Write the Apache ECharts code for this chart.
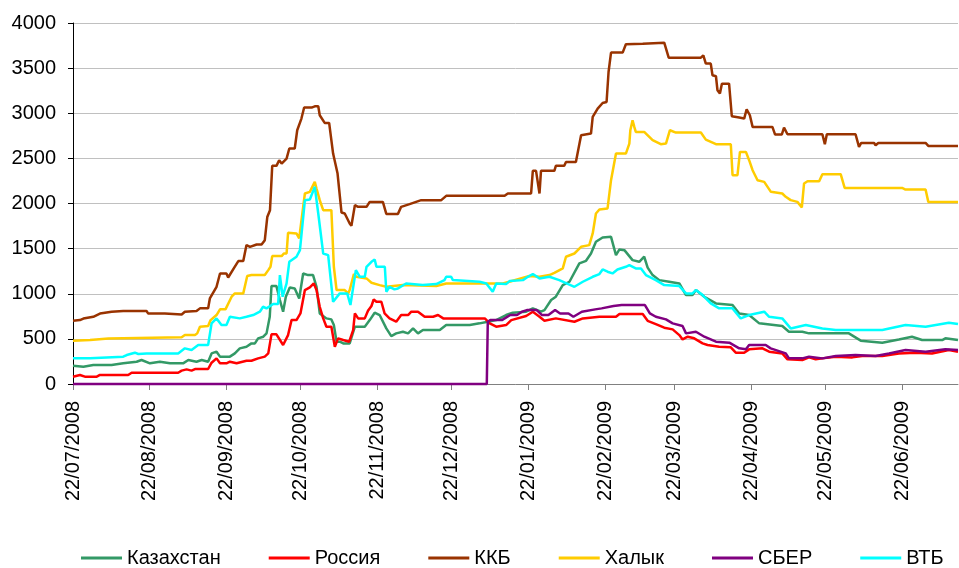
<!DOCTYPE html>
<html>
<head>
<meta charset="utf-8">
<title>CDS</title>
<script src="https://cdn.jsdelivr.net/npm/echarts@6/dist/echarts.min.js"></script>
<style>
    html, body { margin: 0; padding: 0; background: #fff; }
    #main { width: 959px; height: 568px; }
</style>
</head>
<body>
<div id="main"></div>
<script>
// x values are days since 22/07/2008
var startDate = Date.UTC(2008, 6, 22);
var tickDates = ['22/07/2008', '22/08/2008', '22/09/2008', '22/10/2008', '22/11/2008', '22/12/2008',
    '22/01/2009', '22/02/2009', '22/03/2009', '22/04/2009', '22/05/2009', '22/06/2009'];
var lastDay = 357.6;
var yTicks = [0, 500, 1000, 1500, 2000, 2500, 3000, 3500, 4000];

var names = ['Казахстан', 'Россия', 'ККБ', 'Халык', 'СБЕР', 'ВТБ'];
var colors = ['#339966', '#FF0000', '#993300', '#FFCC00', '#800080', '#00FFFF'];

var kazakhstan = [[0,203],[4.2,192],[8.2,210],[8.9,192],[15.6,210],[20.3,229],[25.7,247],[27.7,266],[31.1,229],[35.1,247],
    [39.2,229],[44.5,229],[46.6,266],[49.9,247],[52,266],[54.6,247],[56,339],[58,358],[59.4,303],[63.4,303],[65.4,339],
    [67.4,395],[70.1,413],[72.1,450],[73.5,450],[74.8,506],[76.9,524],[78.2,561],[79.5,745],[80.2,1085],[82.2,1085],
    [83.6,930],[84.9,801],[86,967],[87.6,1070],[89.6,1059],[91.4,948],[93,1225],[95,1207],[97,1207],[98.4,1077],
    [99.7,782],[102.4,727],[104.4,716],[105.4,653],[106.5,469],[107.8,469],[109.2,450],[111.8,450],[113.9,635],
    [117.9,635],[119.9,708],[121.9,790],[123.9,764],[126.6,616],[128.6,531],[130.6,561],[133.3,579],[135.4,561],
    [137.4,616],[139.4,561],[141.4,598],[148.2,598],[150.8,653],[160.3,653],[164.3,672],[167.6,690],[171,708],
    [175,764],[177.7,790],[183.1,801],[185.8,838],[189.1,801],[190.5,819],[193.2,930],[195.1,967],[197.9,1096],
    [200.6,1133],[204.6,1336],[207.3,1365],[209.3,1446],[211.3,1576],[214,1624],[217.4,1631],[219.4,1428],
    [220.8,1491],[222.8,1483],[226.1,1373],[228.8,1354],[230.8,1410],[232.2,1290],[234.2,1207],[236.9,1151],
    [240.9,1133],[245,1114],[247.7,985],[250.3,985],[251.7,1041],[255.1,967],[259.8,893],[266.5,875],[269.2,782],
    [273.2,764],[277.3,672],[286.6,642],[289.3,579],[294.7,579],[297.4,561],[313.5,561],[318.3,480],[327,458],
    [333.7,494],[339,524],[343.1,487],[351.2,487],[352.5,506],[357.6,487]];

var russia = [[0,81],[2.8,100],[4.8,81],[9.6,81],[10.9,100],[22.3,100],[23.7,125],[42.5,125],[43.9,148],[45.9,162],
    [47.9,148],[49.3,166],[54.6,166],[56,236],[58,284],[59.4,229],[62,229],[63.4,247],[66.1,229],[70.1,258],[72.1,258],
    [74.8,284],[77.5,303],[78.9,339],[80.2,550],[82.2,550],[84.9,432],[86.9,542],[88.3,708],[90.3,708],[91.9,782],
    [93.7,1041],[95.7,1070],[97.3,1114],[98.4,1041],[99.7,856],[101.1,727],[102.4,635],[104.4,635],[105.8,413],
    [107.1,506],[109.2,487],[111.6,469],[113.2,598],[113.9,782],[115.2,727],[117.9,727],[119.2,812],[120.6,864],
    [121.5,937],[122.6,911],[124.6,911],[125.9,782],[127.9,727],[130.6,690],[132.6,764],[135.4,764],[136.7,801],
    [139.4,801],[142.1,745],[145.5,745],[147.5,764],[149.6,727],[166.4,727],[168.4,672],[171,635],[175,653],
    [177.1,708],[183.1,753],[185.8,801],[188.5,745],[190.5,701],[195.1,727],[202.6,690],[206,727],[212.7,745],
    [219.4,745],[220.8,775],[230.2,775],[232.2,700],[235.5,664],[238.9,624],[242.3,605],[245,542],[246.3,494],
    [248.4,524],[251,506],[254.4,450],[256.4,432],[261.1,413],[265.8,406],[267.8,347],[271.2,347],[273.2,384],
    [278.6,395],[281.3,358],[286.6,339],[288.7,273],[294.7,266],[297.4,295],[300.1,273],[302.8,284],[308.2,303],
    [314.9,295],[318.9,310],[327,310],[333.7,339],[340.4,347],[347.1,339],[353.9,376],[357.6,358]];

var kkb = [[0,700],[2.8,708],[4.2,725],[8.2,745],[10.9,780],[15.6,800],[20.3,808],[29.7,808],[30.4,780],[37.1,780],
    [37.8,770],[43.9,770],[45.2,800],[49.9,808],[51.3,838],[54.6,838],[55.3,948],[58,1077],[59.4,1225],[62,1225],
    [62.7,1180],[65.4,1300],[66.8,1362],[68.8,1362],[70.1,1540],[71.5,1520],[74.2,1546],[76.2,1546],[77.5,1594],
    [78.5,1850],[79.6,1926],[80.5,2417],[82.2,2417],[83.3,2480],[84.3,2443],[86.3,2498],[87.4,2609],[89.6,2609],
    [90.6,2812],[92.3,2941],[93.4,3063],[96.4,3063],[97.7,3077],[99.1,3077],[99.7,2978],[101.7,2893],[103.5,2893],
    [105.1,2553],[106.9,2332],[108.5,1900],[109.8,1889],[111.8,1779],[112.5,1753],[113.9,1982],[115.2,1963],
    [118.6,1963],[119.9,2018],[125.2,2018],[126.6,1885],[131.3,1885],[132.6,1963],[136,1993],[140.7,2037],
    [148.8,2037],[150.8,2085],[174.4,2085],[175.7,2111],[185.1,2111],[185.8,2362],[187.1,2362],[188.5,2111],
    [189.1,2362],[194.5,2362],[195.1,2417],[198.5,2417],[199.2,2461],[203.2,2461],[205.3,2756],[209.3,2775],
    [210,2959],[212,3052],[214,3114],[215.6,3125],[216.4,3457],[217.4,3672],[222.1,3672],[223.4,3764],[230.2,3771],
    [230.8,3782],[238.9,3782],[240.7,3616],[253.7,3616],[254.7,3642],[255.7,3550],[257.7,3550],[258.4,3421],
    [259.8,3410],[260.4,3255],[261.4,3218],[262.2,3328],[265.1,3328],[266.2,2967],[269.2,2952],[271.2,2941],
    [272.2,3044],[273.5,2978],[274.6,2849],[282.6,2849],[283.7,2764],[286.4,2764],[287.3,2841],[288.7,2767],
    [302.8,2767],[303.8,2657],[304.6,2767],[316.2,2767],[317.6,2627],[318.5,2671],[323.7,2671],[324.3,2646],
    [325.4,2671],[344.5,2671],[345.6,2638],[357.6,2638]];

var halyk = [[0,480],[6.9,487],[7.5,505],[14.3,505],[14.9,517],[43.9,517],[45.2,542],[49.3,542],[50.2,561],[51.3,635],
    [54.6,642],[55.6,708],[58,764],[59.4,827],[61.6,827],[64.1,967],[65.4,1004],[68.8,1004],[70.4,1196],[72.1,1207],
    [77.5,1207],[78.9,1262],[79.8,1299],[80.5,1417],[84.3,1417],[85.2,1446],[86.3,1446],[86.9,1675],[90.3,1668],
    [91.4,1613],[93,1963],[93.7,2111],[95.7,2129],[97.7,2240],[98.4,2166],[99.7,2037],[101.1,1926],[104.4,1926],
    [105.4,1299],[106.5,1041],[109.8,1041],[111.2,1004],[111.8,1041],[113.5,1218],[114.5,1188],[118.6,1170],
    [120.6,1122],[123.9,1096],[126.6,1077],[133.3,1096],[146.8,1085],[150.8,1114],[173.7,1114],[176.3,1133],
    [184.4,1196],[188.5,1188],[192.5,1207],[194.5,1232],[197.9,1281],[199.2,1410],[202.6,1446],[205.3,1520],
    [208.6,1539],[210,1668],[211.3,1889],[212.7,1934],[216,1945],[217.4,2258],[219.4,2553],[223.4,2553],
    [224.8,2664],[225.2,2812],[226.1,2922],[226.8,2849],[227.4,2793],[230.8,2793],[234.2,2701],[237.5,2657],
    [239.6,2664],[241.2,2812],[243.6,2786],[253.7,2786],[255.7,2708],[259.8,2657],[265.8,2657],[266.5,2314],
    [268.5,2314],[269.5,2572],[271.9,2572],[273.2,2480],[274.6,2369],[276.6,2258],[279.3,2240],[282,2129],
    [286.6,2111],[288,2074],[290,2037],[292.7,2018],[294.5,1956],[295.4,2222],[296.8,2247],[301.5,2247],
    [302.8,2325],[310.2,2325],[311.8,2173],[335,2173],[336.4,2155],[344.5,2155],[345.6,2018],[357.6,2018]];

var sber = [[0,0],[167.2,0],[167.6,690],[168.6,708],[173.3,708],[176.7,764],[179.4,764],[181.4,801],[183.4,819],
    [187.4,819],[189.5,764],[192.1,764],[194.8,819],[196.8,782],[200.2,782],[202.2,745],[205.6,801],[211,827],
    [213.6,838],[218.4,864],[221.7,875],[231.1,875],[233.1,782],[235.5,745],[239.6,716],[242.3,672],[246.3,642],
    [247.7,561],[251.7,579],[255.1,524],[259.8,469],[265.2,458],[269.2,395],[271.9,384],[273.2,432],[279.9,432],
    [281.9,395],[288,339],[289.3,284],[294.7,284],[297.4,303],[302.8,284],[308.2,310],[316.2,321],[324.3,310],
    [329.7,339],[336.4,376],[344.5,358],[352.5,384],[357.6,376]];

var vtb = [[0,284],[6.9,284],[7.5,302],[20.3,302],[21.7,321],[25,347],[26.4,332],[29.7,339],[42.5,339],[45.2,395],
    [47.9,376],[50.6,432],[54.6,432],[56,672],[58,727],[60,653],[62,653],[63.4,745],[67.4,727],[70.1,745],[72.8,764],
    [75.5,801],[76.8,856],[78.2,838],[80.9,886],[82.9,886],[83.6,1207],[84.7,967],[86.3,1114],[87.4,1354],
    [90.3,1410],[91.7,1483],[93.7,2037],[95.7,2044],[97.7,2185],[99.1,1889],[101.1,1446],[103.1,1428],[105.1,911],
    [107.8,1004],[110.8,1004],[112.1,875],[114.3,1262],[115.9,1188],[117.9,1188],[118.6,1299],[120.6,1354],
    [121.9,1380],[122.6,1299],[126,1299],[126.6,1022],[127.9,1077],[129.9,1048],[131.3,1059],[134.6,1114],
    [141.3,1096],[146.8,1107],[150.1,1151],[150.8,1188],[152.8,1188],[153.5,1151],[164.3,1133],[167,1114],
    [169.6,1022],[171,1114],[175,1107],[176.4,1140],[181.8,1151],[183.8,1188],[185.8,1218],[188.5,1170],
    [192.5,1188],[196.5,1151],[202.6,1077],[206,1133],[210,1188],[212.7,1218],[214,1269],[216,1244],[218,1225],
    [220,1269],[223.4,1299],[224.8,1317],[227.4,1281],[229.5,1281],[231.5,1207],[235.5,1151],[238.9,1096],
    [245,1085],[247.7,1004],[250.3,1004],[251.7,1041],[254.4,985],[257.7,893],[261.1,838],[266.5,838],[269.8,727],
    [273.2,764],[279.3,801],[281.3,745],[286.6,727],[290,616],[296.1,653],[302.8,616],[308.2,598],[327,598],
    [336.4,653],[344.5,635],[353.9,679],[357.6,664]];

var seriesData = [kazakhstan, russia, kkb, halyk, sber, vtb];

function toDay(str) {
    var p = str.split('/');
    return Math.round((Date.UTC(+p[2], +p[1] - 1, +p[0]) - startDate) / 86400000);
}
function pad(n) {
    return n < 10 ? '0' + n : '' + n;
}
function dayLabel(d) {
    var dt = new Date(startDate + Math.round(d) * 86400000);
    return pad(dt.getUTCDate()) + '/' + pad(dt.getUTCMonth() + 1) + '/' + dt.getUTCFullYear();
}

var tickDays = tickDates.map(toDay);
var fontFamily = "'Liberation Sans', Arial, sans-serif";

var chart = echarts.init(document.getElementById('main'), null, {renderer: 'canvas'});

var option = {
    backgroundColor: '#fff',
    animation: false,
    textStyle: {fontFamily: fontFamily},
    grid: {left: 73, right: 1, top: 23, bottom: 184, containLabel: false},
    legend: {
        data: names,
        left: 81,
        top: 548,
        padding: 0,
        icon: 'rect',
        itemWidth: 41,
        itemHeight: 3,
        itemGap: 48,
        textStyle: {fontSize: 20, color: '#000', fontFamily: fontFamily}
    },
    xAxis: {
        type: 'value',
        min: 0,
        max: lastDay,
        splitLine: {show: false},
        axisLine: {show: true, lineStyle: {color: '#808080', width: 1}},
        axisTick: {show: true, length: 6, customValues: tickDays, lineStyle: {color: '#808080'}},
        axisLabel: {
            customValues: tickDays,
            rotate: 90,
            margin: 17,
            fontSize: 20,
            color: '#000',
            fontFamily: fontFamily,
            formatter: function (v) {
                return dayLabel(v);
            }
        }
    },
    yAxis: {
        type: 'value',
        min: yTicks[0],
        max: yTicks[yTicks.length - 1],
        interval: yTicks[1] - yTicks[0],
        axisLine: {show: true, lineStyle: {color: '#000', width: 1}},
        axisTick: {show: true, length: 5, lineStyle: {color: '#000'}},
        splitLine: {show: true, lineStyle: {color: '#c0c0c0', width: 1}},
        axisLabel: {
            margin: 17,
            fontSize: 20,
            color: '#000',
            fontFamily: fontFamily,
            formatter: function (v) {
                return String(v);
            }
        }
    },
    series: names.map(function (name, i) {
        return {
            name: name,
            type: 'line',
            data: seriesData[i],
            symbol: 'none',
            clip: false,
            color: colors[i],
            lineStyle: {color: colors[i], width: 2.5}
        };
    })
};

chart.setOption(option);
</script>
</body>
</html>
